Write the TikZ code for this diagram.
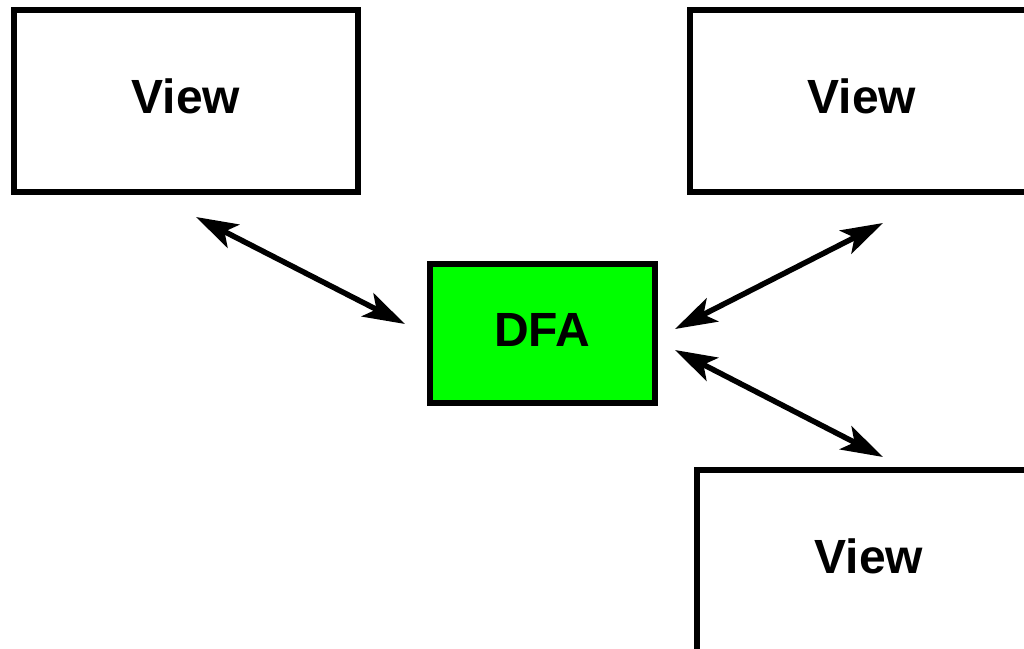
\documentclass[tikz,border=0pt]{standalone}
\usepackage{fontspec}
\setmainfont{Liberation Sans}
\usetikzlibrary{arrows.meta}
\begin{document}
\begin{tikzpicture}[x=1pt,y=-1pt,
  box/.style={draw=black,line width=6pt,minimum width=344pt,minimum height=181.5pt,
    inner sep=0pt,text depth=10pt,font=\fontsize{48}{48}\selectfont\bfseries},
  link/.style={line width=5.5pt,{Stealth[length=42pt,width=26pt,inset=10pt]}-{Stealth[length=42pt,width=26pt,inset=10pt]}}]
  \useasboundingbox (0,0) rectangle (1024,648);
  \clip (0,0) rectangle (1024,648);
  % view boxes and the central automaton
  \node[box] (v1) at (186,100.75) {View};
  \node[box] (v2) at (862,100.75) {View};
  \node[box] (v3) at (869,560.75) {View};
  \node[box,fill={rgb,255:red,0;green,255;blue,0},minimum width=224.5pt,minimum height=139pt,text depth=8pt] (dfa) at (542.25,333.5) {DFA};
  % arrow end points
  \coordinate (a1) at (196,217);
  \coordinate (b1) at (405,324);
  \coordinate (a2) at (675,329);
  \coordinate (b2) at (883,223);
  \coordinate (a3) at (675,350);
  \coordinate (b3) at (883,457);
  \draw[link] (a1) -- (b1);
  \draw[link] (a2) -- (b2);
  \draw[link] (a3) -- (b3);
\end{tikzpicture}
\end{document}
